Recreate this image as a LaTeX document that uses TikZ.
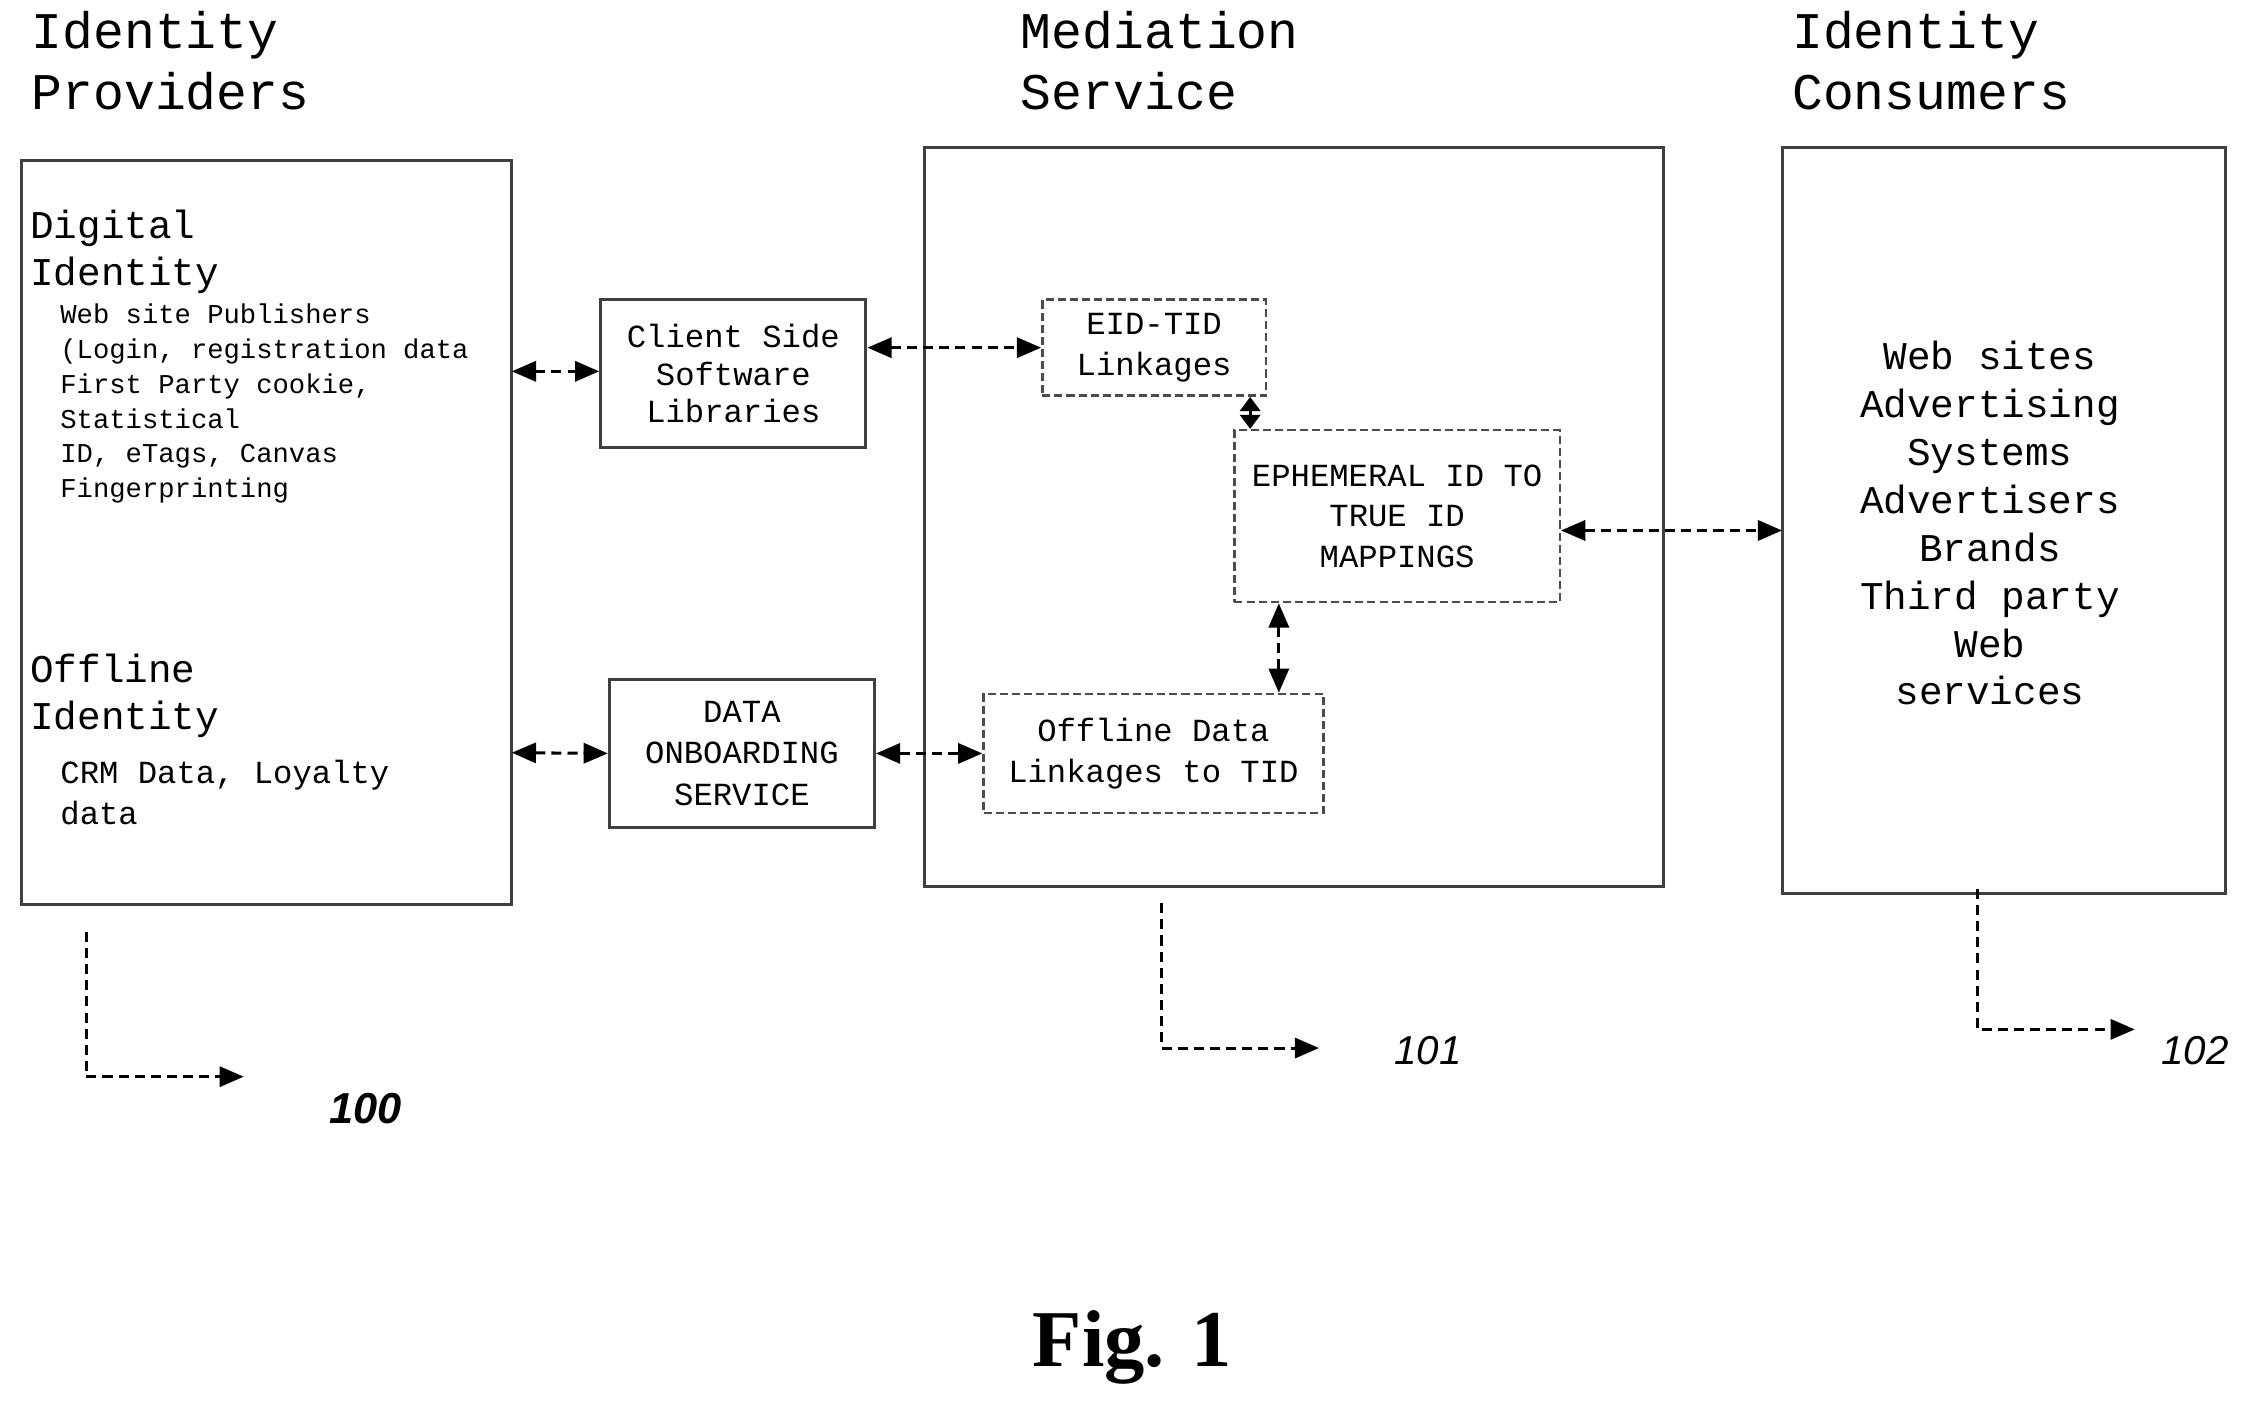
\documentclass[tikz,border=0pt]{standalone}
\usepackage{fontspec}
\setmainfont{Liberation Mono}
\newfontfamily\figfont{Liberation Serif}
\newfontfamily\numfont{Liberation Sans}
\usetikzlibrary{arrows.meta}
\begin{document}
\begin{tikzpicture}[x=0.05cm,y=-0.05cm,
  box/.style={draw=black!75,line width=3pt},
  dbox/.style={draw=black!70,line width=2.4pt,dash pattern=on 8pt off 4pt},
  conn/.style={line width=3pt,dash pattern=on 10pt off 6pt,{Triangle[length=24pt,width=20pt]}-{Triangle[length=24pt,width=20pt]}},
  lead/.style={line width=3pt,dash pattern=on 10pt off 6pt,-{Triangle[length=24pt,width=20pt]}},
  hdr/.style={font=\fontsize{51}{60}\selectfont,align=left,anchor=north west,inner sep=0},
  mid/.style={font=\fontsize{39}{47}\selectfont,align=left,anchor=north west,inner sep=0},
  sm/.style={font=\fontsize{28}{34}\selectfont,align=left,anchor=north west,inner sep=0},
  num/.style={font=\numfont\bfseries\itshape\fontsize{43}{50}\selectfont,inner sep=0}]
\useasboundingbox (0,0) rectangle (1568,982);
\node[hdr] (h1) at (22,8) {Identity\\Providers};
\node[hdr] (h2) at (712,8) {Mediation\\Service};
\node[hdr] (h3) at (1250,8) {Identity\\Consumers};
\draw[box] (15,112) rectangle (357,631);
\coordinate (L1) at (357,259); \coordinate (L2) at (357,525);
\draw[box] (645,103) rectangle (1160,618);
\draw[box] (1243,103) rectangle (1552,623);
\coordinate (R1) at (1243,370);
\node[mid] (di) at (21,146) {Digital\\Identity};
\node[sm,font=\fontsize{27}{34.5}\selectfont] (dt) at (42,212) {Web site Publishers\\(Login, registration data\\First Party cookie,\\Statistical\\ID, eTags, Canvas\\Fingerprinting};
\node[mid] (oi) at (21,456) {Offline\\Identity};
\node[sm,font=\fontsize{32}{41}\selectfont] (ot) at (42,530) {CRM Data, Loyalty\\ data};
\node[box,minimum width=185*0.05cm,minimum height=103*0.05cm,align=center,font=\fontsize{32}{37}\selectfont,inner sep=0] (cs) at (511.5,260.5) {Client Side\\Software\\Libraries};
\node[box,minimum width=185*0.05cm,minimum height=103*0.05cm,align=center,font=\fontsize{32}{41}\selectfont,inner sep=0] (do) at (517.5,525.5) {DATA\\ONBOARDING\\SERVICE};
\node[dbox,minimum width=156*0.05cm,minimum height=67*0.05cm,align=center,font=\fontsize{32}{41}\selectfont,inner sep=0] (et) at (805,242.5) {EID-TID\\Linkages};
\node[dbox,minimum width=227*0.05cm,minimum height=120*0.05cm,align=center,font=\fontsize{32}{40}\selectfont,inner sep=0] (ep) at (974.5,360) {EPHEMERAL ID TO\\TRUE ID\\MAPPINGS};
\node[dbox,minimum width=237*0.05cm,minimum height=83*0.05cm,align=center,font=\fontsize{32}{41}\selectfont,inner sep=0] (od) at (804.5,525.5) {Offline  Data\\Linkages to TID};
\node[align=center,font=\fontsize{39}{47.5}\selectfont,inner sep=0] (ct) at (1388,365) {Web sites\\Advertising\\Systems\\Advertisers\\Brands\\Third party\\Web\\ services};
\draw[conn] (L1) -- (cs.west |- L1);
\draw[conn] (cs.east |- et.west) -- (et.west);
\draw[conn,{Triangle[length=14pt,width=20pt]}-{Triangle[length=14pt,width=20pt]}] (et.south -| 872,0) -- (ep.north -| 872,0);
\draw[conn] (ep.south -| 892,0) -- (od.north -| 892,0);
\draw[conn] (ep.east |- R1) -- (R1);
\draw[conn] (L2) -- (do.west);
\draw[conn] (do.east) -- (od.west);
\coordinate (a1) at (60,650); \coordinate (a2) at (170,751);
\coordinate (b1) at (810,630); \coordinate (b2) at (920,731);
\coordinate (c1) at (1379,620); \coordinate (c2) at (1489,718);
\draw[lead] (a1) |- (a2);
\draw[lead] (b1) |- (b2);
\draw[lead] (c1) |- (c2);
\node[num] (n0) at (255,773) {100};
\node[num,font=\numfont\itshape\fontsize{40}{50}\selectfont] (n1) at (996,733) {101};
\node[num,font=\numfont\itshape\fontsize{40}{50}\selectfont] (n2) at (1531,733) {102};
\node[font=\figfont\bfseries\fontsize{80}{100}\selectfont,inner sep=0] (fig) at (790,940) {Fig. 1};
\end{tikzpicture}
\end{document}
